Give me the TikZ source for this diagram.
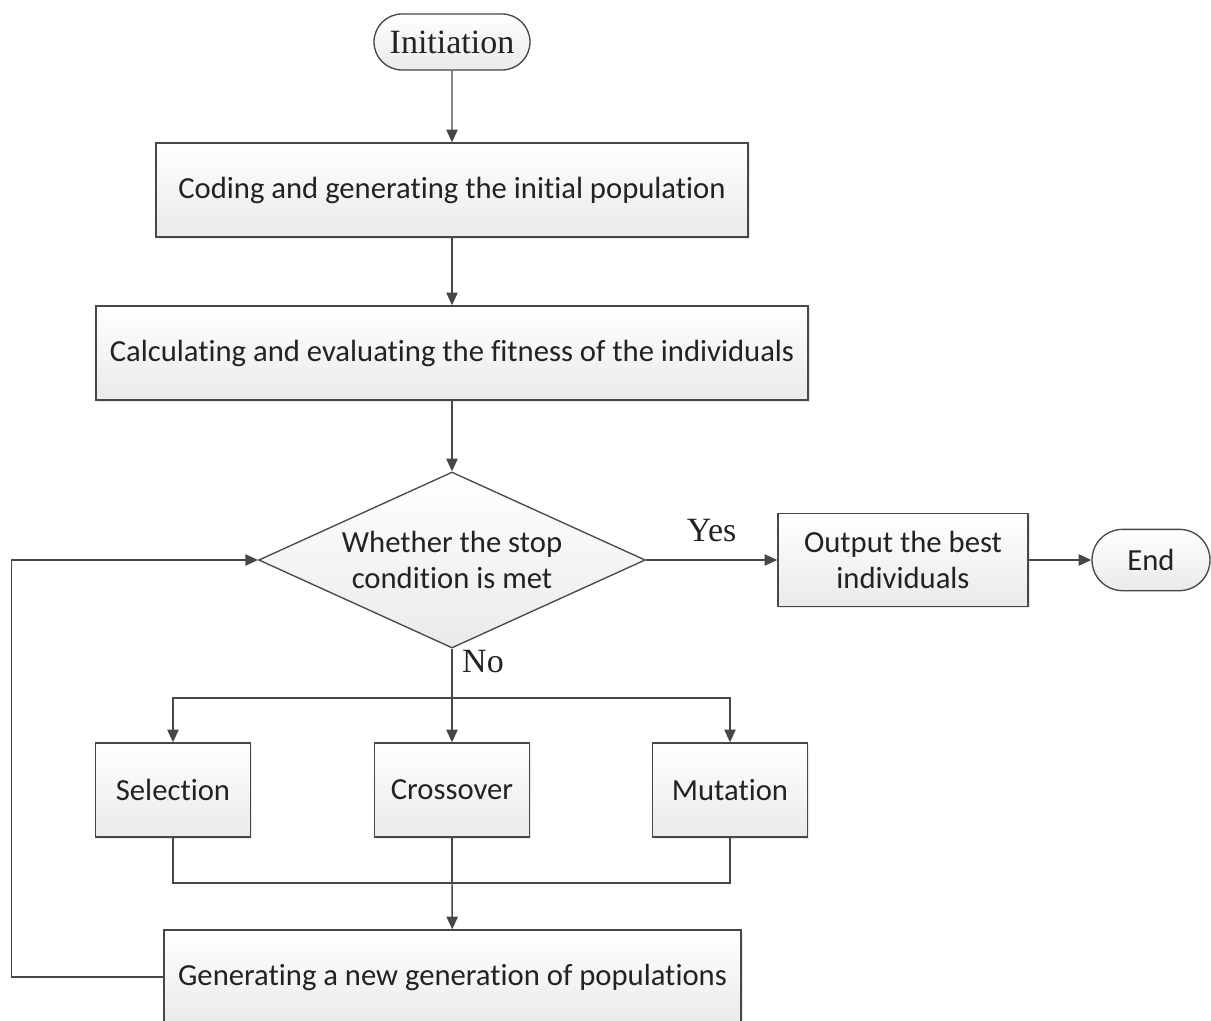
\documentclass[tikz,border=0pt]{standalone}
\usepackage{fontspec}
\setmainfont{Carlito}[Ligatures={NoCommon}]
\newfontfamily\seriflab{Liberation Serif}
\usetikzlibrary{arrows.meta,shapes.geometric,shapes.misc,shadows}
\definecolor{lc}{HTML}{474747}
\definecolor{txt}{HTML}{222222}
\definecolor{fillb}{HTML}{EAEAEA}
\begin{document}
\begin{tikzpicture}[x=0.75pt,y=-0.75pt,
  line/.style={draw=lc, line width=1.1pt},
  arr/.style={line, -{Triangle[length=9.5pt,width=8.5pt]}},
  boxtxt/.style={font=\fontsize{23}{27}\selectfont, text=txt},
  box/.style={boxtxt, draw=lc, line width=1.1pt, rectangle, top color=white, bottom color=fillb,
     minimum height=70.5pt, inner sep=0pt, align=center,
     drop shadow={shadow xshift=1.2pt, shadow yshift=-1.2pt, opacity=0.18}},
  term/.style={boxtxt, draw=lc, line width=1pt, rounded rectangle, top color=white, bottom color=fillb,
     minimum height=42pt, inner sep=0pt},
  dec/.style={draw=lc, line width=1pt, diamond, top color=white, bottom color=fillb,
     minimum width=290pt, minimum height=132pt, inner sep=0pt},
  lab/.style={font=\seriflab\fontsize{25.5}{28}\selectfont, text=txt, inner sep=0pt}
]
\clip (0,0) rectangle (1211,1021);
\useasboundingbox (0,0) rectangle (1211,1021);

\node[term, minimum width=117pt, font=\seriflab\fontsize{25.5}{28}\selectfont] (init) at (452,42) {Initiation};
\node[box, minimum width=444pt] (code) at (452,190) {Coding and generating the initial population};
\node[box, minimum width=534pt] (calc) at (452,353) {Calculating and evaluating the fitness of the individuals};
\node[dec, label={[boxtxt, align=center]center:{Whether the stop\\condition is met}}] (dec) at (452,560) {};
\node[box, minimum width=187.5pt, minimum height=70pt] (out) at (903,560) {Output the best\\individuals};
\node[term, minimum width=88.5pt, minimum height=46pt] (end) at (1151,560) {End};
\node[box, minimum width=116.25pt] (sel) at (173,790) {Selection};
\node[box, minimum width=116.25pt] (cross) at (452,790) {Crossover};
\node[box, minimum width=116.25pt] (mut) at (730,790) {Mutation};
\node[box, minimum width=432.75pt] (gen) at (452.5,977) {Generating a new generation of populations};

\coordinate (br) at (452,698);
\coordinate (mg) at (452,883);

\draw[arr] (init) -- (code);
\draw[arr] (code) -- (calc);
\draw[arr] (calc) -- (dec);
\draw[arr] (dec) -- node[lab, above=13pt] (yes) {Yes} (out);
\draw[arr] (out) -- (end);
\draw[line] (dec.south) -- (br);
\node[lab] (no) at (483,662) {No};
\draw[arr] (br) -- (cross);
\draw[arr] (br) -| (sel);
\draw[arr] (br) -| (mut);
\draw[line] (sel) |- (mg);
\draw[line] (mut) |- (mg);
\draw[line] (cross) -- (mg);
\draw[arr] (mg) -- (gen);
\draw[arr] (gen.west) -- ++(-152,0) |- (dec.west);
\end{tikzpicture}
\end{document}
